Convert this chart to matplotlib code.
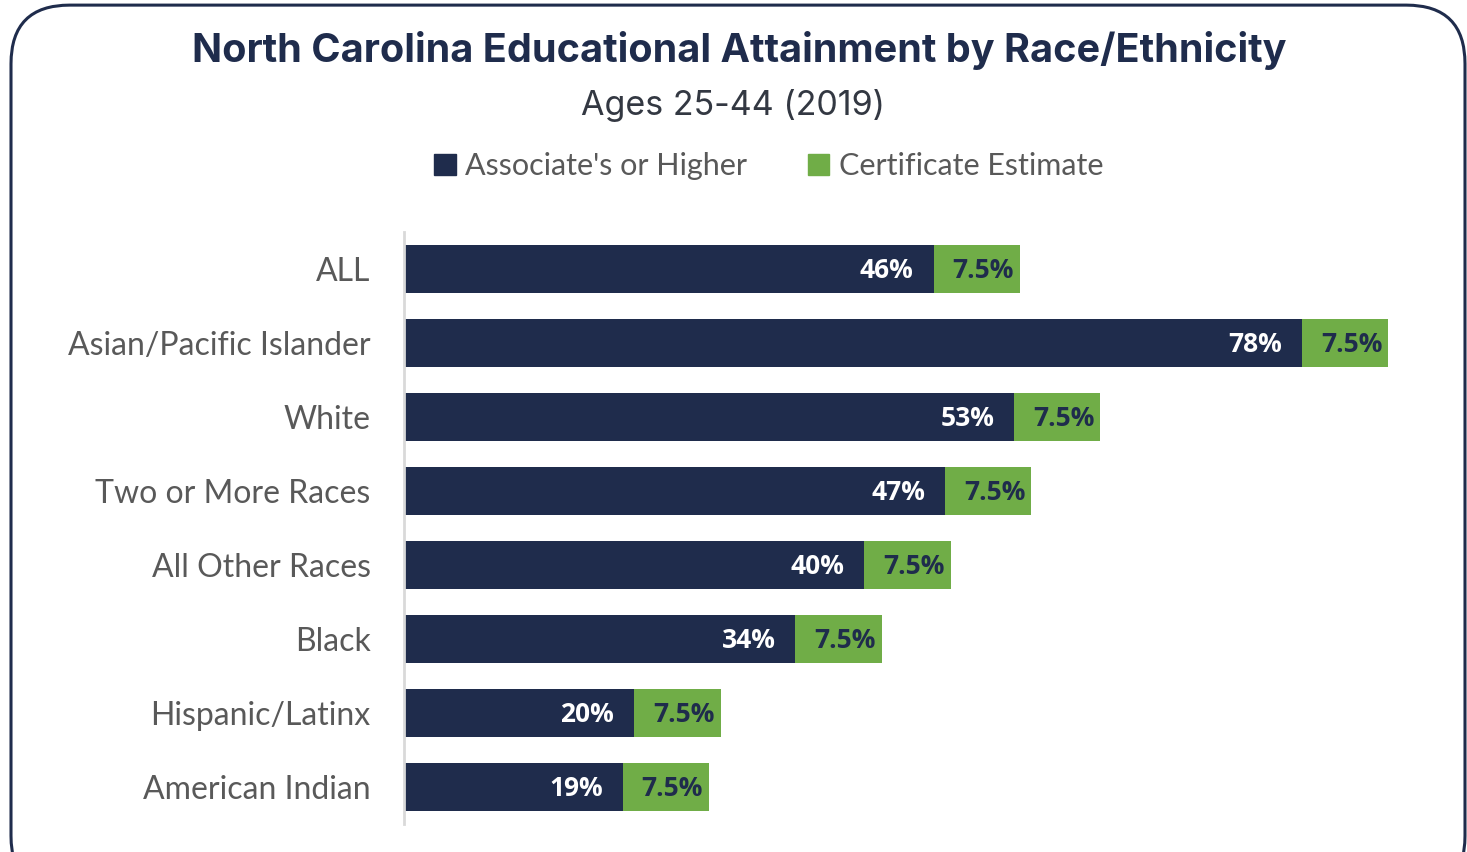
import matplotlib.pyplot as plt
from matplotlib.patches import FancyBboxPatch, Patch

categories = ['ALL', 'Asian/Pacific Islander', 'White', 'Two or More Races',
              'All Other Races', 'Black', 'Hispanic/Latinx', 'American Indian']
associates = [46, 78, 53, 47, 40, 34, 20, 19]
certificate = [7.5, 7.5, 7.5, 7.5, 7.5, 7.5, 7.5, 7.5]

navy = '#1f2c4c'
green = '#70ad47'
gray = '#595959'

fig = plt.figure(figsize=(14.67, 8.52), dpi=100)

# rounded frame around the whole chart
frame = FancyBboxPatch((11 / 1467, -0.05), 1454 / 1467, 1.044,
                       boxstyle='round,pad=0,rounding_size=0.04',
                       transform=fig.transFigure, facecolor='none',
                       edgecolor=navy, linewidth=2.2, mutation_aspect=1467 / 852,
                       zorder=-1)
fig.patches.append(frame)

ax = fig.add_axes([404 / 1467, 28 / 852, 1036 / 1467, 592 / 852])
ax.set_facecolor('none')

ypos = list(range(len(categories)))
ax.barh(ypos, associates, height=0.65, color=navy, label="Associate's or Higher")
ax.barh(ypos, certificate, left=associates, height=0.65, color=green,
        label='Certificate Estimate')

for y, a, c in zip(ypos, associates, certificate):
    ax.annotate(f'{a}%', xy=(a, y), xytext=(-20, -2), textcoords='offset pixels',
                ha='right', va='center', color='white', fontsize=19,
                fontweight='bold', family='Open Sans')
    ax.annotate(f'{c}%', xy=(a + c, y), xytext=(-6, -2), textcoords='offset pixels',
                ha='right', va='center', color=navy, fontsize=19,
                fontweight='bold', family='Open Sans')

ax.set_xlim(0, 90)
ax.set_ylim(7.5, -0.5)
ax.set_yticks(ypos)
ax.set_yticklabels(categories, fontsize=23, color=gray, family='Lato')
ax.tick_params(axis='y', length=0, pad=24)
ax.set_xticks([])
for s in ['top', 'right', 'bottom']:
    ax.spines[s].set_visible(False)
ax.spines['left'].set_color('#d9d9d9')
ax.spines['left'].set_linewidth(2)

fig.text(0.504, 1 - 51 / 852, 'North Carolina Educational Attainment by Race/Ethnicity',
         ha='center', va='center', fontsize=28.5, fontweight='bold', color=navy,
         family='Inter')
fig.text(0.4997, 1 - 105 / 852, 'Ages 25-44 (2019)', ha='center', va='center',
         fontsize=24.5, color='#333842', family='Inter')

handles = [Patch(color=navy), Patch(color=green)]
fig.legend(handles, ["Associate's or Higher", 'Certificate Estimate'],
           loc='center', bbox_to_anchor=(0.524, 1 - 166 / 852), ncol=2,
           frameon=False, handlelength=0.7, handleheight=0.7,
           handletextpad=0.3, columnspacing=2.0,
           prop={'family': 'Lato', 'size': 22}, labelcolor=gray)

fig.savefig('out.png', dpi=100)
